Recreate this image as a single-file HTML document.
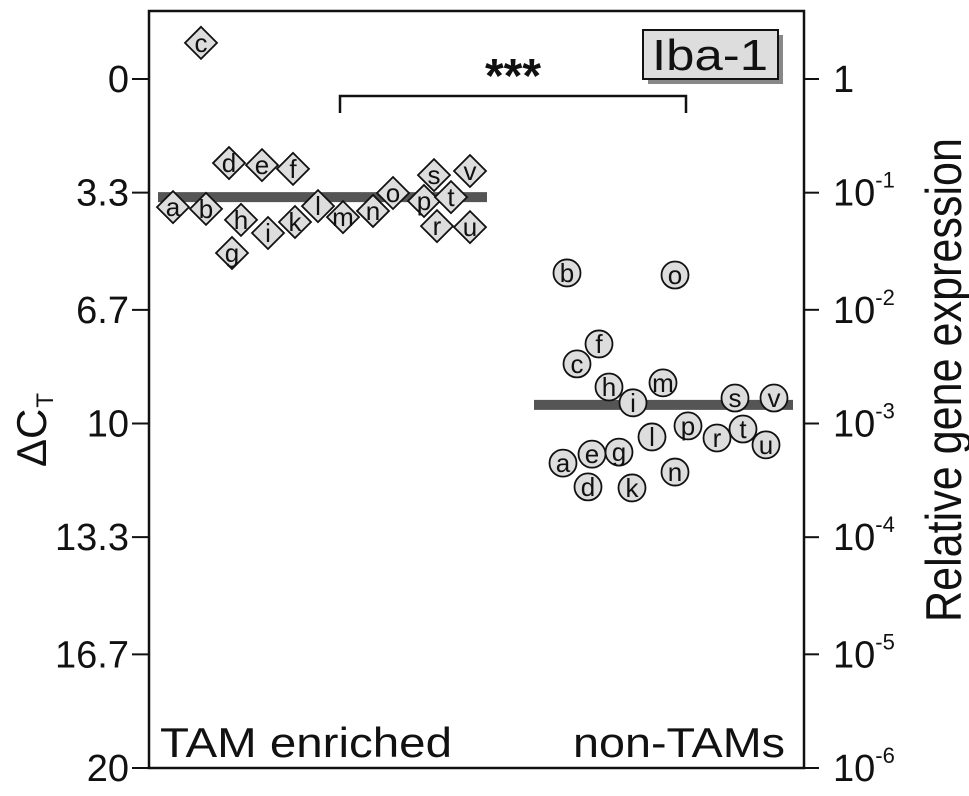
<!DOCTYPE html>
<html><head><meta charset="utf-8"><style>
html,body{margin:0;padding:0;background:#fff;}
svg{display:block;font-family:"Liberation Sans",sans-serif;}
</style></head><body>
<svg id="chart" width="969" height="796" viewBox="0 0 969 796" xmlns="http://www.w3.org/2000/svg">
<g id="axes"></g>
<g id="marks"></g>
</svg>
<script>
const yTicks = [0, 3.3, 6.7, 10, 13.3, 16.7, 20];
const yTickLabels = ["0", "3.3", "6.7", "10", "13.3", "16.7", "20"];
const rightExps = ["0", "-1", "-2", "-3", "-4", "-5", "-6"];
const tamLabels = ["a","b","c","d","e","f","g","h","i","k","l","m","n","o","p","r","s","t","u","v"];
const tamValues = [3.72,3.77,-1.05,2.44,2.50,2.61,5.05,4.09,4.47,4.15,3.69,4.01,3.83,3.31,3.54,4.27,2.79,3.43,4.30,2.67];
const tamX = [173,206,201,229,262,293,232,241,268,295,318,343,373,393,424,437,434,451,470,470];
const nonLabels = ["a","b","c","d","e","f","g","h","i","k","l","m","n","o","p","r","s","t","u","v"];
const nonValues = [11.15,5.63,8.27,11.84,10.89,7.69,10.83,8.94,9.40,11.87,10.39,8.82,11.41,5.69,10.07,10.42,9.26,10.16,10.62,9.26];
const nonX = [563,567,577,588,592,599,619,609,633,632,652,663,675,675,688,717,735,743,766,774];
const tamMean = 3.43;
const nonMean = 9.46;

const NS = "http://www.w3.org/2000/svg";
const L = 149, R = 804, T = 11, B = 768;
function y(v){ return 79 + v * (768 - 79) / 20; }
function mk(tag, attrs, parent, text){
  const e = document.createElementNS(NS, tag);
  for (const k in attrs) e.setAttribute(k, attrs[k]);
  if (text !== undefined) e.textContent = text;
  parent.appendChild(e); return e;
}
const axes = document.getElementById('axes');
const marks = document.getElementById('marks');

let frame = mk('rect', {x:L, y:T, width:R-L, height:B-T, fill:'none', stroke:'#111', 'stroke-width':2.5}, axes);



yTicks.forEach((v, i) => {
  const yy = y(v);
  let t = mk('line', {x1:132, x2:L, y1:yy, y2:yy, stroke:'#111', 'stroke-width':2}, axes);
  
  
  let lb = mk('text', {x:129, y:yy+13, 'text-anchor':'end', 'font-size':38, fill:'#111'}, axes, yTickLabels[i]);
  
  
  let rt = mk('line', {x1:R, x2:819, y1:yy, y2:yy, stroke:'#111', 'stroke-width':2}, axes);
  
  
  let rl = mk('text', {x:833, y:yy+13, 'font-size':38, fill:'#111'}, axes);
  
  
  if (rightExps[i] === "0") { rl.textContent = "1"; }
  else {
    mk('tspan', {}, rl, "10");
    mk('tspan', {'font-size':22, dy:-18}, rl, rightExps[i]);
  }
});

let yt = mk('text', {transform:'translate(46,430) rotate(-90)', 'text-anchor':'middle', 'font-size':42, fill:'#111'}, axes);


mk('tspan', {}, yt, "\u0394C");
mk('tspan', {'font-size':24, dy:7, dx:1}, yt, "T");

let rtitle = mk('text', {transform:'translate(961,380) rotate(-90)', 'text-anchor':'middle', 'font-size':50, textLength:484, lengthAdjust:'spacingAndGlyphs', fill:'#111'}, axes, "Relative gene expression");



let g1 = mk('text', {x:160, y:757, 'font-size':42, textLength:292, lengthAdjust:'spacingAndGlyphs', fill:'#111'}, axes, "TAM enriched");


let g2 = mk('text', {x:785, y:757, 'text-anchor':'end', 'font-size':42, textLength:212, lengthAdjust:'spacingAndGlyphs', fill:'#111'}, axes, "non-TAMs");



let sh = mk('rect', {x:648, y:35, width:135, height:49, fill:'#888'}, axes);


let bx = mk('rect', {x:643, y:30, width:135, height:49, fill:'#ddd', stroke:'#111', 'stroke-width':2}, axes);


let bt = mk('text', {x:710, y:70, 'text-anchor':'middle', 'font-size':44, textLength:116, lengthAdjust:'spacingAndGlyphs', fill:'#111'}, axes, "Iba-1");



let br = mk('path', {d:'M340,113 V96 H686 V113', fill:'none', stroke:'#111', 'stroke-width':2.5}, axes);


let st = mk('text', {x:513, y:92, 'text-anchor':'middle', 'font-size':48, 'font-weight':'bold', fill:'#111'}, axes, "***");



let m1 = mk('line', {x1:158, x2:487, y1:y(tamMean), y2:y(tamMean), stroke:'#555', 'stroke-width':10}, marks);


let m2 = mk('line', {x1:534, x2:793, y1:y(nonMean), y2:y(nonMean), stroke:'#555', 'stroke-width':10}, marks);



tamValues.forEach((v, i) => {
  const cx = tamX[i], cy = y(v), h = 16;
  const g = mk('g', {}, marks);
  
  
  mk('polygon', {points:`${cx},${cy-h} ${cx+h},${cy} ${cx},${cy+h} ${cx-h},${cy}`, fill:'#ddd', stroke:'#111', 'stroke-width':1.8}, g);
  mk('text', {x:cx, y:cy+9, 'text-anchor':'middle', 'font-size':26, fill:'#111'}, g, tamLabels[i]);
});
nonValues.forEach((v, i) => {
  const cx = nonX[i], cy = y(v);
  const g = mk('g', {}, marks);
  
  
  mk('circle', {cx:cx, cy:cy, r:13.5, fill:'#ddd', stroke:'#111', 'stroke-width':1.8}, g);
  mk('text', {x:cx, y:cy+9, 'text-anchor':'middle', 'font-size':26, fill:'#111'}, g, nonLabels[i]);
});
</script>
</body></html>
